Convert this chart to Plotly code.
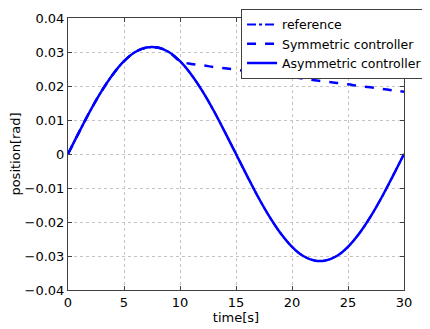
import plotly.graph_objects as go

time_s = list(range(0, 31))
reference = [0.0, 0.0065, 0.0128, 0.0185, 0.0234, 0.0273, 0.0300, 0.0313, 0.0313, 0.0300,
             0.0273, 0.0234, 0.0185, 0.0128, 0.0065, 0.0, -0.0065, -0.0128, -0.0185, -0.0234,
             -0.0273, -0.0300, -0.0313, -0.0313, -0.0300, -0.0273, -0.0234, -0.0185, -0.0128,
             -0.0065, 0.0]
symmetric = [0.0, 0.0065, 0.0128, 0.0185, 0.0234, 0.0273, 0.0300, 0.0313, 0.0313, 0.0300,
             0.0273, 0.0265, 0.0261, 0.0256, 0.0252, 0.0248, 0.0243, 0.0239, 0.0235, 0.0230,
             0.0226, 0.0222, 0.0217, 0.0213, 0.0209, 0.0205, 0.0200, 0.0196, 0.0192, 0.0187,
             0.0183]
asymmetric = list(reference)

x_ticks = [0, 5, 10, 15, 20, 25, 30]
y_ticks = [-0.04, -0.03, -0.02, -0.01, 0, 0.01, 0.02, 0.03, 0.04]
y_tick_text = ["\u22120.04", "\u22120.03", "\u22120.02", "\u22120.01", "0", "0.01", "0.02", "0.03", "0.04"]

blue = "#0000ff"
font = "DejaVu Sans, sans-serif"

fig = go.Figure()
fig.add_trace(go.Scatter(x=time_s, y=reference, name="reference", mode="lines",
                         line=dict(color=blue, width=2, dash="dashdot", shape="spline")))
fig.add_trace(go.Scatter(x=time_s, y=symmetric, name="Symmetric controller", mode="lines",
                         line=dict(color=blue, width=2.5, dash="dash", shape="spline")))
fig.add_trace(go.Scatter(x=time_s, y=asymmetric, name="Asymmetric controller", mode="lines",
                         line=dict(color=blue, width=2.5, shape="spline")))

axis_common = dict(showline=True, linecolor="#404040", linewidth=1, mirror="allticks",
                   ticks="inside", ticklen=4, tickcolor="#404040",
                   showgrid=True, gridcolor="#c4c4c4", griddash="dot", gridwidth=1,
                   zeroline=False, tickfont=dict(size=13, color="black", family=font))

fig.update_xaxes(range=[0, 30], tickvals=x_ticks, ticktext=[str(v) for v in x_ticks],
                 title=dict(text="time[s]", font=dict(size=13, color="black", family=font), standoff=0),
                 **axis_common)
fig.update_yaxes(range=[-0.04, 0.04], tickvals=y_ticks, ticktext=y_tick_text,
                 title=dict(text="position[rad]", font=dict(size=13, color="black", family=font), standoff=4),
                 **axis_common)

fig.update_layout(
    width=422, height=321,
    margin=dict(l=60, r=26, t=10, b=39, autoexpand=False),
    paper_bgcolor="white", plot_bgcolor="white",
    font=dict(family=font, size=13, color="black"),
    showlegend=True,
    legend=dict(x=0.515, y=1.034, xanchor="left", yanchor="top",
                bgcolor="white", bordercolor="#404040", borderwidth=1,
                font=dict(size=12.5, family=font, color="black"),
                tracegroupgap=0, itemwidth=30),
)

fig.write_html("out.html")
